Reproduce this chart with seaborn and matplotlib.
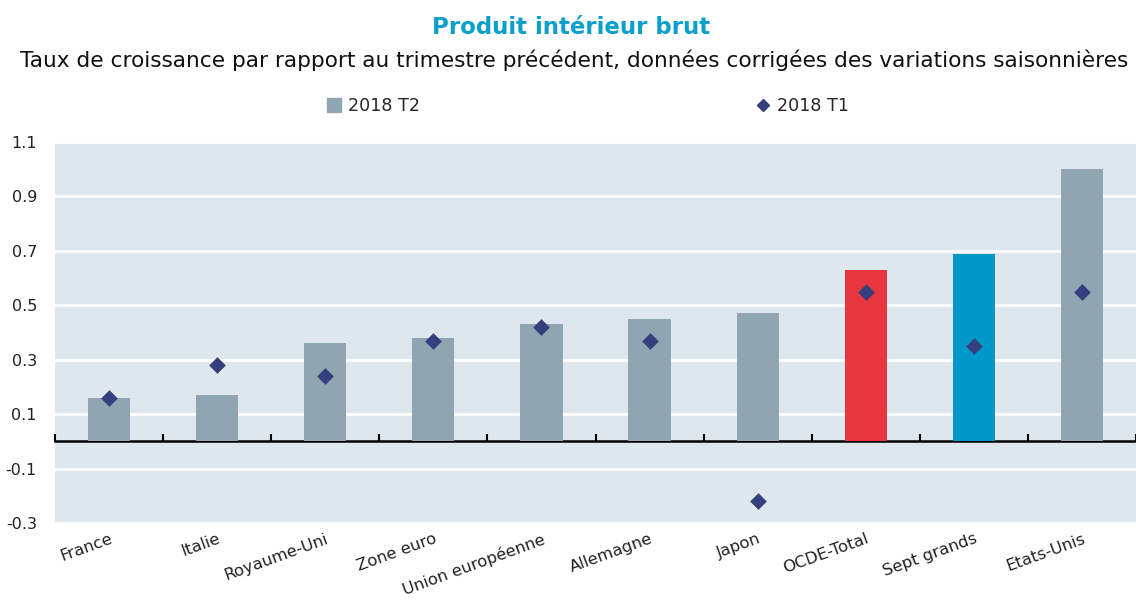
import matplotlib
matplotlib.use("Agg")
import matplotlib.pyplot as plt
import seaborn as sns
import numpy as np
import pandas as pd
from matplotlib.lines import Line2D

categories = ["France", "Italie", "Royaume-Uni", "Zone euro", "Union européenne",
              "Allemagne", "Japon", "OCDE-Total", "Sept grands", "Etats-Unis"]
t2_2018 = [0.16, 0.17, 0.36, 0.38, 0.43, 0.45, 0.47, 0.63, 0.69, 1.00]
t1_2018 = [0.16, 0.28, 0.24, 0.37, 0.42, 0.37, -0.22, 0.55, 0.35, 0.55]
yticks = [-0.3, -0.1, 0.1, 0.3, 0.5, 0.7, 0.9, 1.1]

GREY = "#8FA5B2"
RED = "#E8363F"
BLUE = "#0098C9"
NAVY = "#353F7E"
BG = "#DEE7EE"
bar_colors = [GREY] * 7 + [RED, BLUE, GREY]

sns.set_theme(style="white")
plt.rcParams["font.family"] = ["DejaVu Sans"]

df = pd.DataFrame({"cat": categories, "t2": t2_2018, "t1": t1_2018})

fig = plt.figure(figsize=(11.36, 6.04), dpi=100)
ax = fig.add_axes([55 / 1136, (604 - 523) / 604, 1 - 55 / 1136, (523 - 142) / 604])
ax.set_facecolor(BG)

sns.barplot(data=df, x="cat", y="t2", hue="cat", palette=bar_colors, width=0.39,
            legend=False, ax=ax, saturation=1, zorder=2, linewidth=0, edgecolor="none")
sns.stripplot(data=df, x="cat", y="t1", color=NAVY, marker="D", size=8.5, jitter=False,
              ax=ax, zorder=3, linewidth=0)

ax.set_xlim(-0.5, len(categories) - 0.5)
ax.set_ylim(-0.3, 1.1)
ax.set_yticks(yticks)
ax.set_yticklabels([f"{v:.1f}" for v in yticks], fontsize=11.5, color="#222222")
for v in yticks:
    ax.axhline(v, color="white", lw=2, zorder=1)
for s in ax.spines.values():
    s.set_visible(False)
ax.tick_params(axis="y", length=0, pad=13)
ax.set_xlabel("")
ax.set_ylabel("")
ax.set_xticks(range(len(categories)))
ax.set_xticklabels(categories, rotation=20, ha="right", rotation_mode="anchor",
                   fontsize=11.8, color="#222222")
ax.tick_params(axis="x", length=0, pad=6)

# zero axis line with boundary ticks
sec = ax.secondary_xaxis(0.3 / 1.4)
sec.set_xticks(np.arange(-0.5, len(categories) - 0.4, 1.0))
sec.tick_params(axis="x", direction="in", length=5, width=1.5, color="black",
                labelbottom=False, labeltop=False)
sec.spines["bottom"].set_color("black")
sec.spines["bottom"].set_linewidth(1.8)
sec.spines["bottom"].set_zorder(4)

fig.text(0.503, 0.955, "Produit intérieur brut", ha="center", va="center",
         fontsize=16.5, fontweight="bold", color="#0BA0CC")
fig.text(0.505, 0.9, "Taux de croissance par rapport au trimestre précédent, données corrigées des variations saisonnières",
         ha="center", va="center", fontsize=15.6, color="#111111")

handles = [Line2D([], [], marker="s", ls="none", color=GREY, markersize=10),
           Line2D([], [], marker="D", ls="none", color=NAVY, markersize=6.5)]
fig.legend(handles, ["2018 T2", "2018 T1"], loc="center", bbox_to_anchor=(0.517, 0.824),
           ncol=2, frameon=False, fontsize=12.6, columnspacing=19.1, handletextpad=0.3,
           handlelength=1.0)

fig.savefig("out.png", dpi=100)
